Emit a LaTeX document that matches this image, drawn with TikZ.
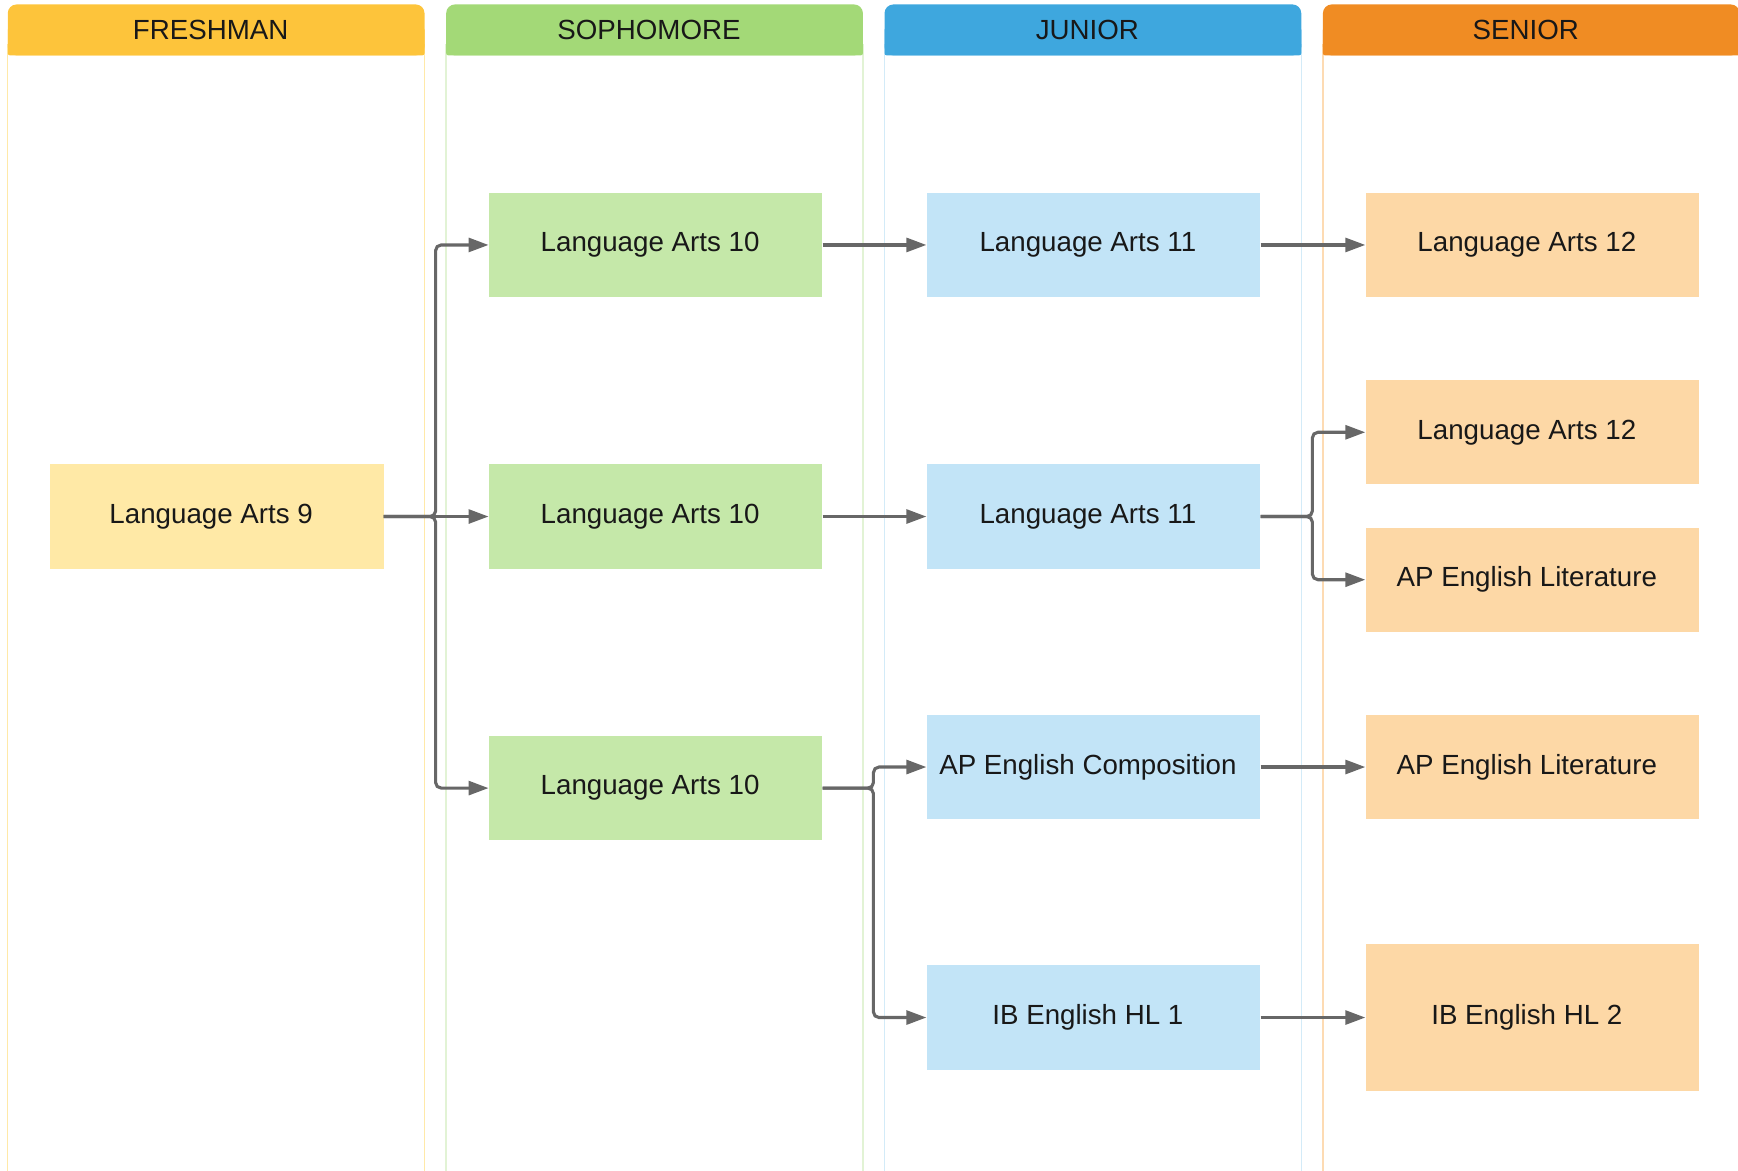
\documentclass[tikz,border=0pt]{standalone}
\usepackage{fontspec}
\setmainfont{Liberation Sans}
\usetikzlibrary{arrows.meta}
\definecolor{hdrF}{HTML}{FDC43B}
\definecolor{hdrS}{HTML}{A3D977}
\definecolor{hdrJ}{HTML}{3EA7DE}
\definecolor{hdrR}{HTML}{F08C23}
\definecolor{nodeF}{HTML}{FFE9A6}
\definecolor{nodeS}{HTML}{C5E8A9}
\definecolor{nodeJ}{HTML}{C2E4F7}
\definecolor{nodeR}{HTML}{FDD8A6}
\definecolor{laneF}{HTML}{FFE9A8}
\definecolor{laneS}{HTML}{E2F3D5}
\definecolor{laneJ}{HTML}{D3EBF8}
\definecolor{laneR}{HTML}{FDDBB3}
\definecolor{lineC}{HTML}{676767}
\definecolor{txt}{HTML}{181818}
\tikzset{
  box/.style={minimum width=301pt, minimum height=94pt, inner sep=0pt,
    font=\fontsize{25}{30}\selectfont, text=txt,
    execute at end node={\hspace*{10pt}}},
  boxF/.style={box, fill=nodeF},
  boxS/.style={box, fill=nodeS},
  boxJ/.style={box, fill=nodeJ},
  boxR/.style={box, fill=nodeR},
  hdr/.style={minimum width=376pt, minimum height=46pt, inner sep=0pt,
    rounded corners=8pt, font=\fontsize{25}{30}\selectfont, text=txt,
    execute at end node={\hspace*{10pt}}},
  lane/.style={line width=1.2pt},
  conn/.style={draw=lineC, line width=2.8pt, rounded corners=5pt,
    -{Triangle[length=18pt,width=12.5pt]}},
}
\begin{document}
\begin{tikzpicture}[x=1pt,y=-1pt]
\useasboundingbox (0,0) rectangle (1568,1056);
\clip (0,0) rectangle (1568,1056);
% lanes
\draw[lane, draw=laneF] (7,40) -- (7,1070) (383,40) -- (383,1070);
\draw[lane, draw=laneS] (402.5,40) -- (402.5,1070) (778.5,40) -- (778.5,1070);
\draw[lane, draw=laneJ] (798,40) -- (798,1070) (1174,40) -- (1174,1070);
\draw[lane, draw=laneR] (1193.5,40) -- (1193.5,1070) (1569.5,40) -- (1569.5,1070);
% headers
\fill[hdrF, rounded corners=2pt] (7,25) rectangle (383,50);
\fill[hdrS, rounded corners=2pt] (402.5,25) rectangle (778.5,50);
\fill[hdrJ, rounded corners=2pt] (798,25) rectangle (1174,50);
\fill[hdrR, rounded corners=2pt] (1193.5,25) rectangle (1569.5,50);
\node[hdr, fill=hdrF] (hF) at (195,27) {FRESHMAN};
\node[hdr, fill=hdrS] (hS) at (590.5,27) {SOPHOMORE};
\node[hdr, fill=hdrJ] (hJ) at (986,27) {JUNIOR};
\node[hdr, fill=hdrR] (hR) at (1381.5,27) {SENIOR};
% nodes
\node[boxF] (la9) at (195.5,466) {Language Arts 9};
\node[boxS] (la10a) at (591.5,221) {Language Arts 10};
\node[boxS] (la10b) at (591.5,466) {Language Arts 10};
\node[boxS] (la10c) at (591.5,711) {Language Arts 10};
\node[boxJ] (la11a) at (986.5,221) {Language Arts 11};
\node[boxJ] (la11b) at (986.5,466) {Language Arts 11};
\node[boxJ] (apc) at (986.5,692) {AP English Composition};
\node[boxJ] (ib1) at (986.5,918) {IB English HL 1};
\node[boxR] (la12a) at (1382.5,221) {Language Arts 12};
\node[boxR] (la12b) at (1382.5,390) {Language Arts 12};
\node[boxR] (aplit1) at (1382.5,523) {AP English Literature};
\node[boxR] (aplit2) at (1382.5,692) {AP English Literature};
\node[boxR, minimum height=132pt] (ib2) at (1382.5,918) {IB English HL 2};
% connectors
\coordinate (s1) at (393,466);
\coordinate (s2) at (788,711);
\coordinate (s3) at (1184,466);
\draw[conn] (la9.east) -- (s1) |- (la10a.west);
\draw[conn] (la9.east) -- (la10b.west);
\draw[conn] (la9.east) -- (s1) |- (la10c.west);
\draw[conn] (la10a.east) -- (la11a.west);
\draw[conn] (la10b.east) -- (la11b.west);
\draw[conn] (la10c.east) -- (s2) |- (apc.west);
\draw[conn] (la10c.east) -- (s2) |- (ib1.west);
\draw[conn] (la11a.east) -- (la12a.west);
\draw[conn] (la11b.east) -- (s3) |- (la12b.west);
\draw[conn] (la11b.east) -- (s3) |- (aplit1.west);
\draw[conn] (apc.east) -- (aplit2.west);
\draw[conn] (ib1.east) -- (ib2.west);
\end{tikzpicture}
\end{document}
